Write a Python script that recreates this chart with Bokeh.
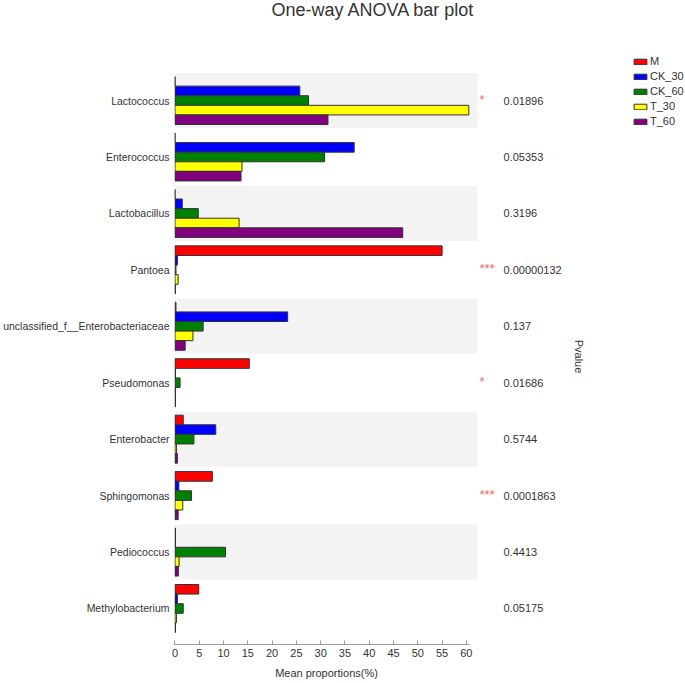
import math
from bokeh.plotting import figure
from bokeh.layouts import row, column
from bokeh.models import (ColumnDataSource, Range1d, FixedTicker, Label)
from bokeh.core.properties import value
from bokeh.embed import file_html
from bokeh.resources import INLINE

categories = ["Lactococcus", "Enterococcus", "Lactobacillus", "Pantoea",
              "unclassified_f__Enterobacteriaceae", "Pseudomonas", "Enterobacter",
              "Sphingomonas", "Pediococcus", "Methylobacterium"]
groups = ["M", "CK_30", "CK_60", "T_30", "T_60"]
M_vals     = [0.0, 0.0, 0.0, 55.0, 0.2, 15.3, 1.7, 7.7, 0.1, 4.9]
CK30_vals  = [25.7, 36.9, 1.5, 0.5, 23.2, 0.1, 8.4, 0.8, 0.1, 0.5]
CK60_vals  = [27.5, 30.8, 4.8, 0.2, 5.8, 1.05, 3.9, 3.4, 10.4, 1.7]
T30_vals   = [60.5, 13.8, 13.2, 0.65, 3.7, 0.1, 0.3, 1.6, 0.85, 0.3]
T60_vals   = [31.5, 13.6, 46.9, 0.1, 2.1, 0.1, 0.5, 0.65, 0.7, 0.1]
pvalues = ["0.01896", "0.05353", "0.3196", "0.00000132", "0.137",
           "0.01686", "0.5744", "0.0001863", "0.4413", "0.05175"]
stars = ["*", "", "", "***", "", "*", "", "***", "", ""]
x_ticks = [0, 5, 10, 15, 20, 25, 30, 35, 40, 45, 50, 55, 60]
title_text = "One-way ANOVA bar plot"

series = [M_vals, CK30_vals, CK60_vals, T30_vals, T60_vals]
colors = ["#FF0000", "#0000FF", "#008000", "#FFFF00", "#800080"]

FONT = "Liberation Sans"
n = len(categories)
row_y = [n - 1 - i for i in range(n)]

W, H = 685, 683
LEFT, TOP, BOTTOM = 174, 45, 39
PXU = 4.85
X_END = 62.5
W1 = LEFT + int(round((X_END + 0.1) * PXU))
W2 = W - W1
H2 = H - TOP
frame_h = H2 - BOTTOM
y_range = Range1d(-0.638, -0.638 + frame_h / 56.44)

# ---- title strip ----
t = figure(width=W, height=TOP, output_backend="svg", toolbar_location=None,
           x_range=Range1d(0, W), y_range=Range1d(0, TOP), title_location=None,
           min_border_left=0, min_border_right=0, min_border_top=0, min_border_bottom=0)
t.outline_line_color = None
t.axis.visible = False
t.grid.visible = False
t.text(x=[271], y=[TOP - 9], text=[title_text], text_font=value(FONT), text_font_size="18px",
       text_color="#333333", text_align="left", text_baseline="middle")

# ---- main bar panel ----
p = figure(width=W1, height=H2, output_backend="svg", toolbar_location=None,
           x_range=Range1d(-0.1, X_END), y_range=y_range, title_location=None,
           min_border_left=LEFT, min_border_right=0, min_border_top=0, min_border_bottom=BOTTOM)
p.outline_line_color = None
p.xgrid.visible = False
p.ygrid.visible = False

band_y = [row_y[i] for i in range(n) if i % 2 == 0]
p.hbar(y=band_y, left=0, right=62.3, height=0.975, fill_color="#F3F3F3", line_color=None)

bar_h = 0.17
sources = []
for k, (g, vals, c) in enumerate(zip(groups, series, colors)):
    off = (2 - k) * bar_h
    src = ColumnDataSource(dict(y=[yy + off for yy in row_y], right=vals))
    sources.append(src)
    p.hbar(y="y", left=0, right="right", height=bar_h, source=src,
           fill_color=c, line_color="#333333", line_width=1)

p.xaxis.ticker = FixedTicker(ticks=x_ticks)
p.xaxis.bounds = (0, 60.6)
p.xaxis.major_tick_in = 4
p.xaxis.major_tick_out = 0
p.xaxis.minor_tick_line_color = None
p.xaxis.axis_line_color = "#999999"
p.xaxis.major_tick_line_color = "#999999"
p.xaxis.major_label_text_font = FONT
p.xaxis.major_label_text_font_size = "11px"
p.xaxis.major_label_text_color = "#333333"
p.xaxis.major_label_standoff = 4
p.xaxis.axis_label = "Mean proportions(%)"
p.xaxis.axis_label_text_font = FONT
p.xaxis.axis_label_text_font_size = "11px"
p.xaxis.axis_label_text_font_style = "normal"
p.xaxis.axis_label_text_color = "#333333"
p.xaxis.axis_label_standoff = 7

p.yaxis.ticker = FixedTicker(ticks=row_y)
p.yaxis.major_label_overrides = {row_y[i]: categories[i] for i in range(n)}
p.yaxis.axis_line_color = None
p.yaxis.major_tick_line_color = None
p.yaxis.minor_tick_line_color = None
p.yaxis.major_tick_out = 0
p.yaxis.major_tick_in = 0
p.yaxis.major_label_standoff = 5
p.yaxis.major_label_text_font = FONT
p.yaxis.major_label_text_font_size = "10.5px"
p.yaxis.major_label_text_color = "#333333"

# ---- right panel: significance, p-values, legend (shares the y scale) ----
q = figure(width=W2, height=H2, output_backend="svg", toolbar_location=None,
           x_range=Range1d(0, W2), y_range=y_range, title_location=None,
           min_border_left=0, min_border_right=0, min_border_top=0, min_border_bottom=BOTTOM)
q.outline_line_color = None
q.axis.visible = False
q.grid.visible = False

q.text(x=[25] * n, y=row_y, text=pvalues, text_font=value(FONT), text_font_size="11px",
       text_color="#333333", text_align="left", text_baseline="middle")
q.text(x=[1] * n, y=[yy + 0.02 for yy in row_y], text=stars, text_font=value(FONT),
       text_font_size="13px", text_color="#F06A6A", text_align="left", text_baseline="middle")
q.add_layout(Label(x=100, y=288, x_units="screen", y_units="screen", text="Pvalue",
                   angle=-math.pi / 2, text_font=FONT, text_font_size="11px",
                   text_color="#333333", text_align="center", text_baseline="middle"))

# legend entries: same series as hidden renderers (only their legend swatches show)
for g, c, src in zip(groups, colors, sources):
    r = q.hbar(y="y", left=0, right="right", height=bar_h, source=src,
               fill_color=c, line_color="#333333", line_width=1, legend_label=g)
    r.visible = False

leg = q.legend[0]
leg.location = (154, 517)
leg.glyph_width = 16
leg.glyph_height = 7
leg.label_height = 12
leg.spacing = 3
leg.label_standoff = 2
leg.padding = 0
leg.margin = 0
leg.border_line_color = None
leg.background_fill_alpha = 0
leg.inactive_fill_alpha = 0
leg.click_policy = "none"
leg.label_text_font = FONT
leg.label_text_font_size = "11px"
leg.label_text_color = "#333333"

layout = column(t, row(p, q, spacing=0), spacing=0)
open("out.html", "w").write(file_html(layout, INLINE))
